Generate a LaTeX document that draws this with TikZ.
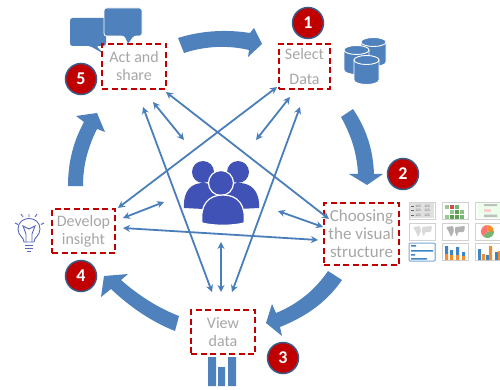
\documentclass[tikz,border=0pt]{standalone}
\usepackage{fontspec}
\setmainfont{Carlito}
\usetikzlibrary{arrows.meta}
\definecolor{arrowblue}{HTML}{4F81BD}
\definecolor{thinblue}{HTML}{4A7EBB}
\definecolor{peopleblue}{HTML}{4052B5}
\definecolor{boxred}{HTML}{C00000}
\definecolor{textgray}{HTML}{A6A6A6}
\definecolor{ringblue}{HTML}{385D8A}
\definecolor{bulbblue}{HTML}{5868BE}
\definecolor{chartorange}{HTML}{F28E2B}
\definecolor{chartblue}{HTML}{3D85C6}
\definecolor{chartgreen}{HTML}{59A14F}
\tikzset{
 stagebox/.style={draw=boxred,line width=1.8pt,dash pattern=on 6pt off 3.5pt,inner sep=0pt,align=center,text=textgray,font=\fontsize{16}{18}\selectfont},
 badge/.style={circle,draw=ringblue,line width=1.5pt,fill=boxred,text=white,minimum size=31pt,inner sep=0pt,font=\fontsize{18}{18}\selectfont\bfseries},
 link/.style={draw=thinblue,line width=1.8pt,{Stealth[length=7pt,width=7pt]}-{Stealth[length=7pt,width=7pt]}},
 bigarrow/.style={fill=arrowblue,draw=none},
 bubble/.style={fill=arrowblue,draw=white,line width=.8pt,rounded corners=2.5pt},
 thumb/.style={draw=black!18,line width=.7pt,fill=white},
}
\newcommand{\dbcylinder}[3]{% left x, top y, bottom y
  \fill[arrowblue,draw=white,line width=.9pt] (#1,#2) -- (#1,#3) arc[start angle=180,end angle=0,x radius=12.5,y radius=4.5] -- (#1+25,#2) -- cycle;
  \draw[fill=arrowblue,draw=white,line width=.9pt] (#1+12.5,#2) ellipse[x radius=12.5,y radius=4.5];
}
\begin{document}
\begin{tikzpicture}[x=1pt,y=-1pt]
\useasboundingbox (0,0) rectangle (500,390);
% big cycle arrows
\fill[bigarrow] (178,38) .. controls (200,31) and (225,29) .. (250,33) -- (254,28) -- (262,44) -- (248,57) -- (249,50) .. controls (228,45) and (205,46) .. (184,53) -- cycle;
\fill[bigarrow] (353,109) .. controls (367,130) and (373,150) .. (374,174) -- (383,174) -- (367,185) -- (349,174) -- (358,174) .. controls (357,153) and (351,135) .. (341,117) -- cycle;
\fill[bigarrow] (342,280) .. controls (326,303) and (305,317) .. (280,327) -- (282,336) -- (266,323) -- (272,304) -- (276,313) .. controls (298,304) and (315,290) .. (328,271) -- cycle;
\fill[bigarrow] (179,316) .. controls (158,308) and (138,295) .. (121,280) -- (128,274) -- (104,276) -- (101,297) -- (111,289) .. controls (130,307) and (152,322) .. (175,331) -- cycle;
\fill[bigarrow] (83,186) .. controls (83,165) and (88,147) .. (97,129) -- (105,132) -- (97,113) -- (76,116) -- (84,122) .. controls (73,142) and (68,163) .. (68,186) -- cycle;
% speech bubbles
\fill[arrowblue,rounded corners=2.5pt] (70,18) -- (106,18) -- (106,46) -- (96,46) -- (104,54) -- (90,46) -- (70,46) -- cycle;
\draw[bubble] (104,8) -- (142,8) -- (142,36) -- (134,36) -- (128,45) -- (124,36) -- (104,36) -- cycle;
% database
\dbcylinder{361}{42}{62}
\dbcylinder{344}{50}{70}
\dbcylinder{354}{60}{80}
% bar chart
\fill[arrowblue] (208,357) rectangle (216,386) (218,367) rectangle (225,386) (228,357) rectangle (236,386);
% light bulb
\begin{scope}[draw=bulbblue,line width=.9pt]
\draw (24,242) .. controls (24,237) and (18,236) .. (18,229) .. controls (18,215) and (40,215) .. (40,229) .. controls (40,236) and (34,237) .. (34,242) -- cycle;
\draw (26,242) -- (26,234) -- (23,226) -- (29,229) -- (35,226) -- (32,234) -- (32,242);
\draw[line width=1pt] (25,245) -- (33,245) (25,248) -- (33,248) (27,251) -- (31,251);
\draw (15,223) -- (18,224.5) (21,214) -- (23,217) (29,214) -- (29,217) (37,214) -- (35,217) (44,223) -- (41,224.5);
\end{scope}
% people
\fill[peopleblue] (203,172) circle[radius=11] (238,172) circle[radius=11];
\fill[peopleblue] (184,208) .. controls (183,190) and (192,183) .. (203,183) .. controls (214,183) and (224,190) .. (224,210) -- cycle;
\fill[peopleblue] (219,210) .. controls (219,190) and (228,183) .. (239,183) .. controls (250,183) and (260,190) .. (259,208) -- cycle;
\fill[peopleblue,draw=white,line width=1.2pt] (221,183) circle[radius=12.5];
\fill[peopleblue,draw=white,line width=1.2pt] (202,223) .. controls (200,205) and (208,195) .. (223,195) .. controls (238,195) and (246,205) .. (244,223) .. controls (232,226) and (214,226) .. (202,223) -- cycle;
% thumbnails
\foreach \x in {409,442,475}{\foreach \y in {202,223,243}{
  \draw[thumb] (\x,\y) rectangle ++(26,17);
}}
\fill[black!12] (410,203) rectangle (434,218);
\foreach \y in {206,210.5,215}{\foreach \x in {418,427}{\node[font=\fontsize{3.6}{4}\selectfont,text=black!60,inner sep=0pt] (n\x\y) at (\x,\y) {123};}\fill[black!60] (411,\y-.5) rectangle (414,\y+.5);}
\foreach \x/\y/\c in {445/205/chartgreen!60,450/205/boxred!70,455/205/chartgreen!80,450/210/chartgreen!60,455/210/chartgreen,460/210/chartgreen!70,445/215/chartgreen!60,450/215/chartgreen,455/215/chartgreen,460/215/chartgreen!80}{\fill[\c] (\x,\y) rectangle ++(4,3.5);}
\fill[green!8] (478,203) rectangle (500,218);
\fill[red!20] (484,208.5) rectangle (491,212);
\fill[black!25] (484,214.5) rectangle (497,217) (484,204) rectangle (497,206);
% maps
\foreach \x/\g in {409/15,442/30}{\fill[black!\g,rounded corners=1pt] (\x+4,227) -- (\x+11,226) -- (\x+12,231) -- (\x+9,237) -- (\x+7,232) -- cycle (\x+13,227) -- (\x+23,226) -- (\x+22,232) -- (\x+16,232) -- (\x+15,237) -- (\x+13,232) -- cycle;}
% pie
\fill[chartorange] (487.5,231.5) -- (487.5,225) arc[start angle=-90,end angle=10,radius=6.5] -- cycle;
\fill[chartgreen!80] (487.5,231.5) -- (494,231.5) arc[start angle=0,end angle=135,radius=6.5] -- cycle;
\fill[red!55] (487.5,231.5) -- (482.9,236.1) arc[start angle=135,end angle=270,radius=6.5] -- cycle;
% bars thumbnail row
\draw[chartblue!70,line width=1pt,rounded corners=1pt,fill=white] (409,243) rectangle (435,261);
\fill[chartblue] (411,245) rectangle (416,246.5) (411,250) rectangle (433,251.5) (411,254) rectangle (415,255.5) (411,258) rectangle (427,259.5);
\fill[chartblue] (445,246) rectangle (448,254) (456,247) rectangle (459,255) (450,250) rectangle (453,255) (462,252) rectangle (465,256);
\fill[chartorange] (445,254) rectangle (448,260) (450,255) rectangle (453,260) (456,255) rectangle (459,260) (462,256) rectangle (465,260);
\fill[chartblue] (478,249) rectangle (481,260) (486,255) rectangle (489,260) (495,252) rectangle (498,260);
\fill[chartorange] (482,254) rectangle (485,260) (489,246) rectangle (492,260) (498,251) rectangle (500,260);
% stages
\node[stagebox,minimum width=64pt,minimum height=45pt] (act) at (134,66.5) {Act and\\share};
\node[stagebox,minimum width=51pt,minimum height=45pt,font=\fontsize{16}{25}\selectfont] (sel) at (304.5,66.5) {Select\\Data};
\node[stagebox,minimum width=75pt,minimum height=62pt,font=\fontsize{17}{18}\selectfont] (cho) at (361.5,234) {Choosing\\the visual\\structure};
\node[stagebox,minimum width=64pt,minimum height=44pt] (vie) at (223,332) {View\\data};
\node[stagebox,minimum width=63pt,minimum height=44pt] (dev) at (83.5,231) {Develop\\insight};
% connector ends
\coordinate (a1) at (166,92); \coordinate (c1) at (329,219);
\coordinate (a2) at (153,102); \coordinate (p1) at (184,140);
\coordinate (a3) at (143,107); \coordinate (v1) at (212,292);
\coordinate (s1) at (277,87); \coordinate (d1) at (118,208);
\coordinate (s2) at (290,97); \coordinate (p2) at (256,140);
\coordinate (s3) at (300,107); \coordinate (v2) at (232,292);
\coordinate (d2) at (123,218); \coordinate (p3) at (164,202);
\coordinate (d3) at (123,228); \coordinate (c2) at (318,240);
\coordinate (v3) at (221,292); \coordinate (p4) at (221,242);
\coordinate (c3) at (323,227); \coordinate (p5) at (278,211);
\foreach \u/\v in {a1/c1,a2/p1,a3/v1,s1/d1,s2/p2,s3/v2,d2/p3,d3/c2,v3/p4,c3/p5}{\draw[link] (\u) -- (\v);}
% badges
\node[badge] (b1) at (308,23) {1};
\node[badge] (b2) at (403,174) {2};
\node[badge] (b3) at (283,358) {3};
\node[badge] (b4) at (81,276) {4};
\node[badge] (b5) at (81,79) {5};
\end{tikzpicture}
\end{document}
